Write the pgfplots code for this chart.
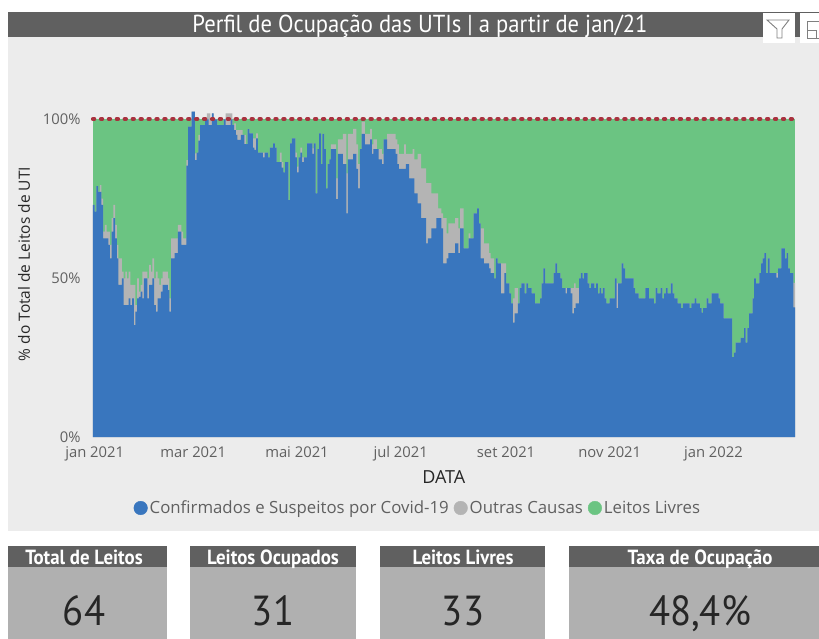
\documentclass[border=0pt]{standalone}
\usepackage{fontspec}
\setmainfont{Open Sans}
\newfontfamily\din{PT Sans}[FakeStretch=0.92]
\usepackage{pgfplots}
\usepackage{pgfplotstable}
\pgfplotsset{compat=1.18}
\definecolor{cblue}{RGB}{57,118,190}
\definecolor{cgray}{RGB}{180,180,180}
\definecolor{cgreen}{RGB}{107,196,130}
\definecolor{cred}{RGB}{168,50,62}
\definecolor{panel}{RGB}{236,236,236}
\definecolor{bar}{RGB}{96,96,96}
\definecolor{card}{RGB}{176,176,176}
\definecolor{tick}{RGB}{96,96,96}
% day, % blue (Covid), % blue + gray (occupied)
\pgfplotstableread{
d b t
0 73.0 73.0
1 70.9 70.9
2 78.9 78.9
3 77.1 77.1
4 77.1 79.2
5 73.0 75.0
6 62.5 64.6
7 62.5 66.7
8 62.5 64.6
9 60.4 64.6
10 56.2 60.4
11 64.6 68.8
12 68.8 73.0
13 62.5 66.7
14 56.2 60.4
15 47.8 56.2
17 49.9 52.0
18 41.5 49.9
19 41.5 52.0
20 41.5 49.9
21 43.6 52.0
22 41.5 47.8
23 43.6 47.8
24 35.2 47.8
25 39.4 41.5
26 43.6 49.9
27 44.1 45.7
28 45.7 47.8
29 43.6 52.0
30 49.9 52.0
32 43.6 49.9
33 47.8 54.1
34 47.8 52.0
35 49.9 56.2
36 41.5 49.9
37 39.4 52.0
38 43.6 49.9
39 43.6 47.8
40 45.7 49.9
41 47.8 52.0
44 46.2 49.9
45 39.4 43.6
46 56.2 62.5
48 57.8 62.5
50 64.6 66.7
52 60.4 64.6
53 60.4 62.5
55 85.3 87.1
56 97.6 97.6
58 102.3 102.3
60 87.1 89.2
61 89.4 89.4
62 93.2 95.0
63 98.1 98.1
66 99.9 99.9
67 99.9 101.8
68 98.1 101.8
69 98.1 99.9
70 101.8 101.8
71 99.9 99.9
73 98.1 98.1
77 99.9 99.9
78 98.1 101.8
81 99.9 101.8
82 98.1 98.1
83 96.5 98.6
84 95.0 96.5
85 93.4 96.5
87 95.0 96.5
88 95.0 95.0
89 92.1 95.0
90 92.1 92.1
91 96.8 96.8
92 95.5 95.5
94 91.0 93.9
95 90.3 93.9
96 93.9 95.5
97 89.4 89.4
100 87.9 89.4
101 89.4 89.4
103 87.9 87.9
104 91.0 91.0
106 92.3 92.3
107 91.0 91.0
108 86.4 86.4
110 86.4 89.4
111 84.7 86.4
112 83.2 83.2
113 86.4 86.4
115 74.5 74.5
116 92.3 92.3
117 93.9 93.9
119 87.9 89.4
120 83.2 85.0
121 87.9 87.9
122 89.4 91.0
123 86.4 87.9
124 87.9 87.9
126 92.3 92.3
129 89.0 90.8
130 92.3 92.3
131 76.6 76.6
132 90.5 90.5
133 95.5 95.5
134 85.8 85.8
135 95.3 95.3
136 90.5 90.5
137 78.2 78.2
138 85.8 85.8
139 87.3 87.3
140 90.5 92.0
143 74.8 81.3
144 89.0 93.6
147 85.8 95.3
149 70.3 82.9
150 87.3 95.3
153 89.0 96.9
155 84.3 92.0
156 78.2 85.8
157 90.5 90.5
158 95.3 99.2
160 92.0 95.3
163 93.6 96.9
164 89.0 92.0
165 90.5 93.6
167 90.5 90.5
168 87.3 90.5
170 85.8 89.0
171 93.6 93.6
173 90.5 95.3
178 89.0 93.6
179 85.8 92.0
180 84.3 89.0
183 84.3 92.0
184 85.8 89.0
186 81.3 89.0
188 81.3 90.5
189 76.6 87.3
191 73.5 89.0
193 68.8 84.5
196 60.9 79.8
197 62.5 79.8
199 65.6 76.6
202 68.8 76.6
203 68.8 71.9
205 65.6 70.3
206 54.6 68.8
208 56.2 64.0
209 57.8 67.2
213 60.9 68.8
215 57.8 65.6
216 65.6 71.9
218 59.3 59.3
221 62.5 64.0
222 62.5 62.5
224 70.3 70.3
226 71.9 71.9
227 67.2 67.2
228 56.2 65.6
230 54.6 60.9
233 53.0 57.8
234 51.5 56.2
236 49.9 49.9
237 56.2 56.2
238 54.6 54.6
240 45.2 54.6
242 51.5 54.6
243 48.3 48.3
245 45.2 45.2
246 42.0 42.0
247 36.0 43.6
248 38.9 46.8
250 42.0 42.0
251 46.8 46.8
252 48.3 48.3
254 45.2 45.2
255 48.3 48.3
256 46.8 46.8
258 45.2 45.2
260 42.0 42.0
263 43.6 43.6
264 48.3 48.3
265 53.0 53.0
266 48.3 48.3
271 51.5 51.5
272 54.6 54.6
273 51.5 51.5
275 49.9 49.9
276 46.8 46.8
278 45.2 46.8
279 46.8 46.8
281 45.2 46.8
282 38.9 46.8
283 40.5 48.3
284 42.0 46.8
286 49.9 49.9
287 51.5 51.5
288 49.9 49.9
289 51.5 51.5
291 48.3 48.3
292 46.8 46.8
293 48.3 48.3
295 46.8 46.8
296 48.3 48.3
297 45.2 45.2
298 46.8 46.8
299 45.2 45.2
300 46.8 46.8
301 43.6 43.6
302 42.0 42.0
304 43.6 43.6
307 49.9 49.9
308 40.5 48.3
309 48.3 48.3
311 54.6 54.6
312 53.0 53.0
313 49.9 49.9
318 46.8 46.8
319 45.2 45.2
321 43.6 43.6
325 46.8 46.8
327 43.6 43.6
330 42.0 42.0
331 46.8 46.8
332 45.2 45.2
334 46.8 46.8
335 43.6 43.6
336 45.2 45.2
337 46.8 46.8
338 45.2 45.2
340 48.3 48.3
341 45.2 45.2
342 43.6 43.6
344 42.0 42.0
346 40.5 40.5
347 42.0 42.0
351 40.5 40.5
352 42.0 42.0
354 43.6 43.6
355 42.0 42.0
357 40.5 40.5
358 39.1 39.1
359 40.5 40.5
361 43.6 43.6
362 42.0 42.0
364 45.2 45.2
368 43.6 43.6
369 42.0 42.0
371 37.3 37.3
376 25.1 25.1
377 26.5 26.5
378 29.7 29.7
381 31.2 31.2
383 34.2 34.2
384 29.7 29.7
385 34.2 34.2
386 38.9 38.9
388 43.6 43.6
389 49.9 49.9
390 48.3 48.3
392 51.5 51.5
393 54.6 54.6
394 56.2 56.2
395 57.8 57.8
396 51.5 51.5
397 56.2 56.2
398 51.5 51.5
402 50.1 51.5
403 53.0 53.0
405 59.3 59.3
407 56.2 56.2
408 57.8 57.8
409 53.0 53.0
410 51.5 51.5
412 40.8 48.5
413 40.8 48.5
}\occ
\pgfplotstableread{
d v
0 100
413 100
}\full
\begin{document}
\begin{tikzpicture}[x=1pt,y=1pt]
\useasboundingbox (0,0) rectangle (819,-639);
\fill[white] (0,0) rectangle (819,-639);
\fill[panel] (8,-37) rectangle (819,-531);
\fill[bar] (8,-12) rectangle (819,-37);
\node[anchor=base,text=white,font=\din\fontsize{24.6}{24.6}\selectfont] at (420,-32.5) {Perfil de Ocupação das UTIs | a partir de jan/21};
% toolbar icons
\fill[white] (763,-13) rectangle (795,-43);
\fill[white] (800,-13) rectangle (819,-43);
\draw[gray,line width=0.9pt] (767,-20) -- (789,-20) -- (782,-29) -- (782,-38) -- (777,-38) -- (777,-29) -- cycle;
\draw[gray,line width=0.9pt] (819,-21) -- (807,-21) -- (807,-38) -- (819,-38);
\draw[gray,line width=0.9pt] (807,-30) -- (816,-30) -- (816,-38);
% cards
\foreach \xa/\xb/\xc/\lab/\val in {8/167/84/Total de Leitos/64,190/356/273/Leitos Ocupados/31,380/545/463/Leitos Livres/33,569/819/700/Taxa de Ocupação/{48,4\%}}{
  \fill[card] (\xa,-567) rectangle (\xb,-639);
  \fill[bar] (\xa,-546) rectangle (\xb,-567);
  \node[anchor=base,text=white,font=\din\bfseries\fontsize{20.5}{20.5}\selectfont] at (\xc,-564) {\lab};
  \node[anchor=base,text=black!85,font=\din\fontsize{42}{42}\selectfont] at (\xc,-625.5) {\val};
}
\begin{axis}[
  at={(93pt,-437pt)},anchor=south west,
  width=702pt,height=318pt,scale only axis,
  xmin=0,xmax=413,ymin=0,ymax=100,clip=false,
  axis line style={draw=none},
  tick style={draw=none},
  xtick={1,59,120,181,243,304,365},
  xticklabels={jan 2021,mar 2021,mai 2021,jul 2021,set 2021,nov 2021,jan 2022},
  ytick={0,50,100},
  yticklabels={0\%,50\%,100\%},
  tick label style={text=tick,font=\fontsize{14.8}{14.8}\selectfont},
  x tick label style={yshift=-6pt},
  y tick label style={xshift=-9pt},
  xlabel={DATA},
  ylabel={\% do Total de Leitos de UTI},
  every axis x label/.style={at={(axis description cs:0.4997,0)},anchor=center,yshift=-40pt,text=black!85,font=\fontsize{18}{18}\selectfont},
  every axis y label/.style={at={(axis description cs:0,0.5)},anchor=center,rotate=90,yshift=69pt,xshift=14pt,text=black!85,font=\fontsize{15.5}{15.5}\selectfont},
  legend style={at={(axis description cs:0.4628,0)},anchor=center,yshift=-71pt,draw=none,fill=none,
    font=\fontsize{16.8}{16.8}\selectfont,text=tick,/tikz/every even column/.append style={column sep=3pt},inner sep=0pt},
  legend columns=3,
  legend cell align=left,
]
\addlegendimage{legend image code/.code={\fill[cblue] (0.45em,0) circle (6.8pt);}}
\addlegendentry{Confirmados e Suspeitos por Covid-19}
\addlegendimage{legend image code/.code={\fill[cgray] (0.45em,0) circle (6.8pt);}}
\addlegendentry{Outras Causas}
\addlegendimage{legend image code/.code={\fill[cgreen] (0.45em,0) circle (6.8pt);}}
\addlegendentry{Leitos Livres}
\addplot[ybar interval,fill=cgreen,draw=none,forget plot] table[x=d,y=v]{\full};
\addplot[ybar interval,fill=cgray,draw=none,forget plot] table[x=d,y=t]{\occ};
\addplot[ybar interval,fill=cblue,draw=none,forget plot] table[x=d,y=b]{\occ};
\addplot[cred,line width=4.2pt,line cap=round,dash pattern=on 1.2pt off 6.73pt,forget plot] table[x=d,y=v]{\full};
\end{axis}
\end{tikzpicture}
\end{document}
